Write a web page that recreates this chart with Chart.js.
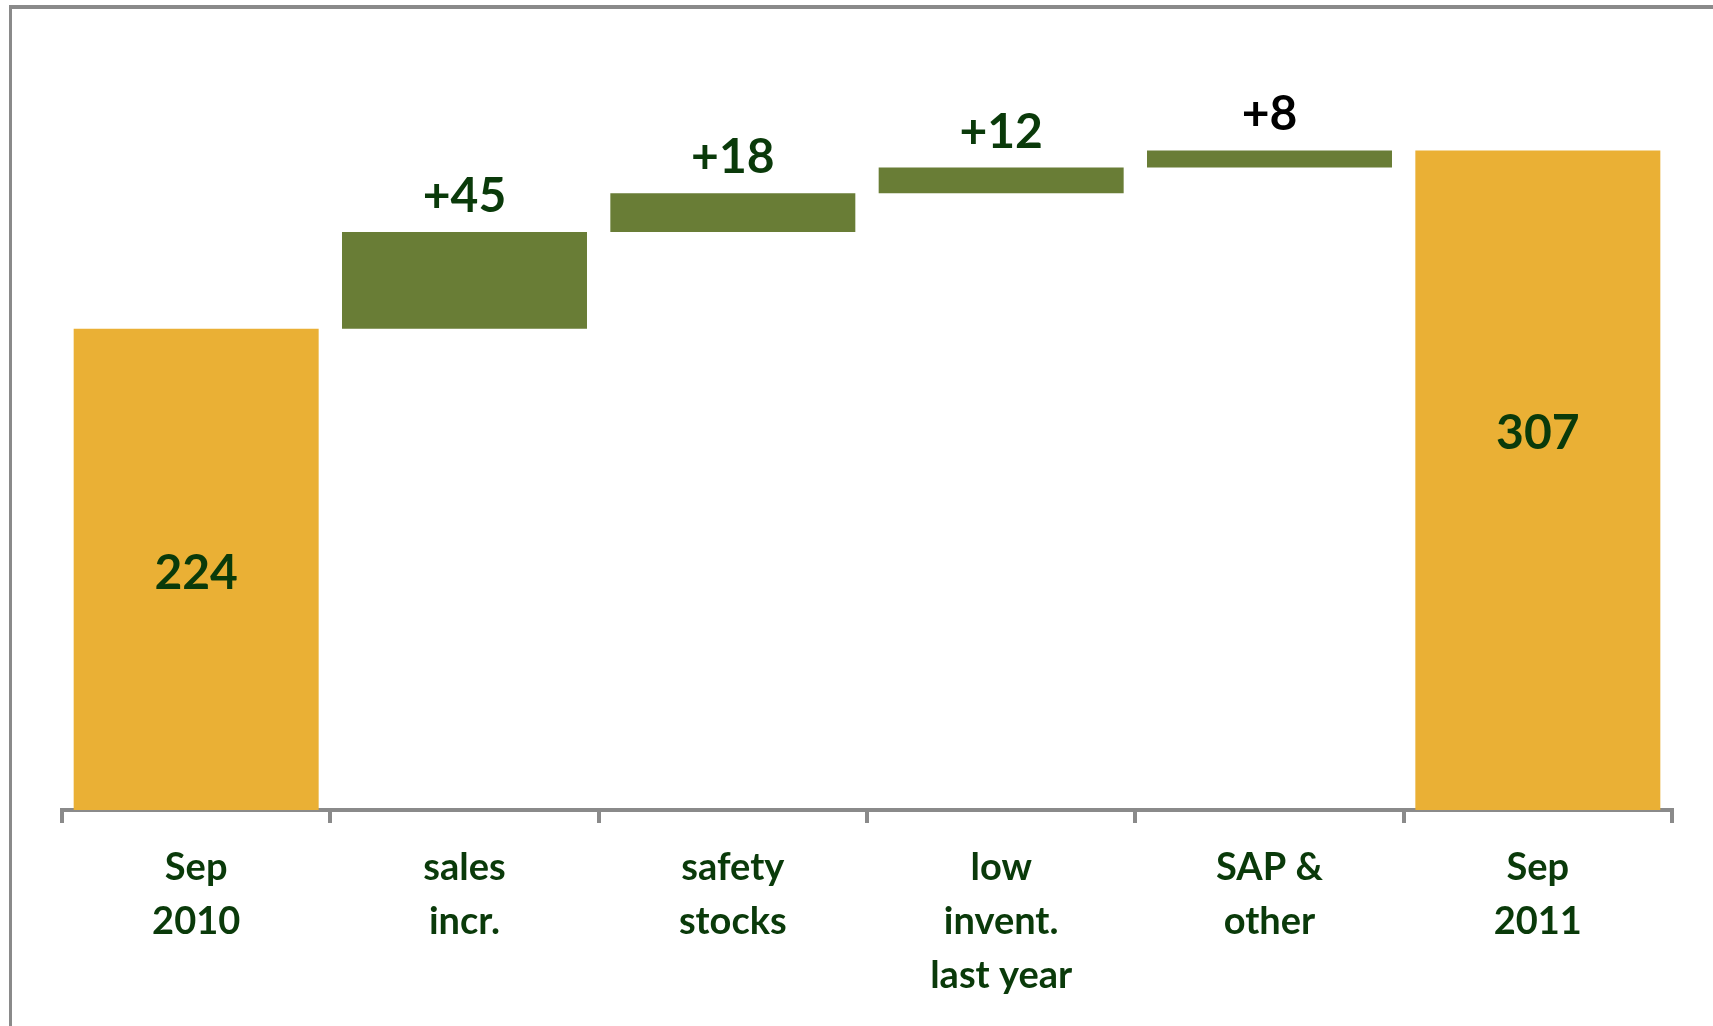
<!DOCTYPE html>
<html>
<head>
<meta charset="utf-8">
<title>Inventory bridge Sep 2010 - Sep 2011</title>
<script src="https://cdn.jsdelivr.net/npm/chart.js@4.4.0/dist/chart.umd.min.js"></script>
<style>
    html, body { margin: 0; padding: 0; background: #fff; overflow: hidden; }
    #frame {
        position: absolute; left: 9px; top: 5px; width: 2000px; height: 2000px;
        border-top: 4px solid #8a8a8a; border-left: 3px solid #8a8a8a;
    }
    #wrap { position: absolute; left: 0; top: 0; width: 1713px; height: 1026px; }
</style>
</head>
<body>
<div id="frame"></div>
<div id="wrap"><canvas id="bridge"></canvas></div>
<script>
// categories (multi-line tick labels)
const categories = [
    ['Sep', '2010'],
    ['sales', 'incr.'],
    ['safety', 'stocks'],
    ['low', 'invent.', 'last year'],
    ['SAP &', 'other'],
    ['Sep', '2011']
];
// values: totals are absolute, the others are changes
const values = [224, 45, 18, 12, 8, 307];
const isTotal = [true, false, false, false, false, true];
const valueLabels = ['224', '+45', '+18', '+12', '+8', '307'];

const gold = '#eab035';
const green = '#697d36';
const darkGreen = '#0a3a0a';
const gray = '#8a8a8a';

// where the total labels sit inside their bars (data units)
const totalLabelAt = [110, 175];

// build floating ranges for the waterfall
let running = 0;
const ranges = values.map((v, i) => {
    if (isTotal[i]) {
        running = v;
        return [0, v];
    }
    const r = [running, running + v];
    running += v;
    return r;
});

const labelPlugin = {
    id: 'barLabels',
    afterDatasetsDraw(chart) {
        const ctx = chart.ctx;
        const meta = chart.getDatasetMeta(0);
        const y = chart.scales.y;
        let t = 0;
        ctx.save();
        ctx.font = 'bold 48px Lato';
        ctx.textAlign = 'center';
        meta.data.forEach((bar, i) => {
            if (isTotal[i]) {
                ctx.fillStyle = darkGreen;
                ctx.textBaseline = 'middle';
                ctx.fillText(valueLabels[i], bar.x, y.getPixelForValue(totalLabelAt[t++]));
            } else {
                ctx.fillStyle = i === 4 ? '#000' : darkGreen;
                ctx.textBaseline = 'alphabetic';
                ctx.fillText(valueLabels[i], bar.x, bar.y - 20);
            }
        });
        ctx.restore();
    }
};

new Chart(document.getElementById('bridge'), {
    type: 'bar',
    data: {
        labels: categories,
        datasets: [{
            data: ranges,
            backgroundColor: isTotal.map(t => t ? gold : green),
            borderWidth: 0,
            borderSkipped: false,
            barPercentage: 0.913,
            categoryPercentage: 1
        }]
    },
    options: {
        responsive: true,
        maintainAspectRatio: false,
        animation: false,
        layout: { padding: { left: 62, right: 41, top: 58, bottom: 0 } },
        plugins: { legend: { display: false }, tooltip: { enabled: false } },
        scales: {
            y: { display: false, min: 0, max: 350 },
            x: {
                afterFit(scale) { scale.height = 216; },
                grid: {
                    display: true,
                    drawOnChartArea: false,
                    drawTicks: true,
                    tickLength: 13,
                    color: gray,
                    lineWidth: 4
                },
                border: { display: true, color: gray, width: 4 },
                ticks: {
                    color: darkGreen,
                    font: { family: 'Lato', size: 38, weight: 'bold', lineHeight: 1.42 },
                    padding: 18,
                    maxRotation: 0,
                    autoSkip: false
                }
            }
        }
    },
    plugins: [labelPlugin]
});
</script>
</body>
</html>
